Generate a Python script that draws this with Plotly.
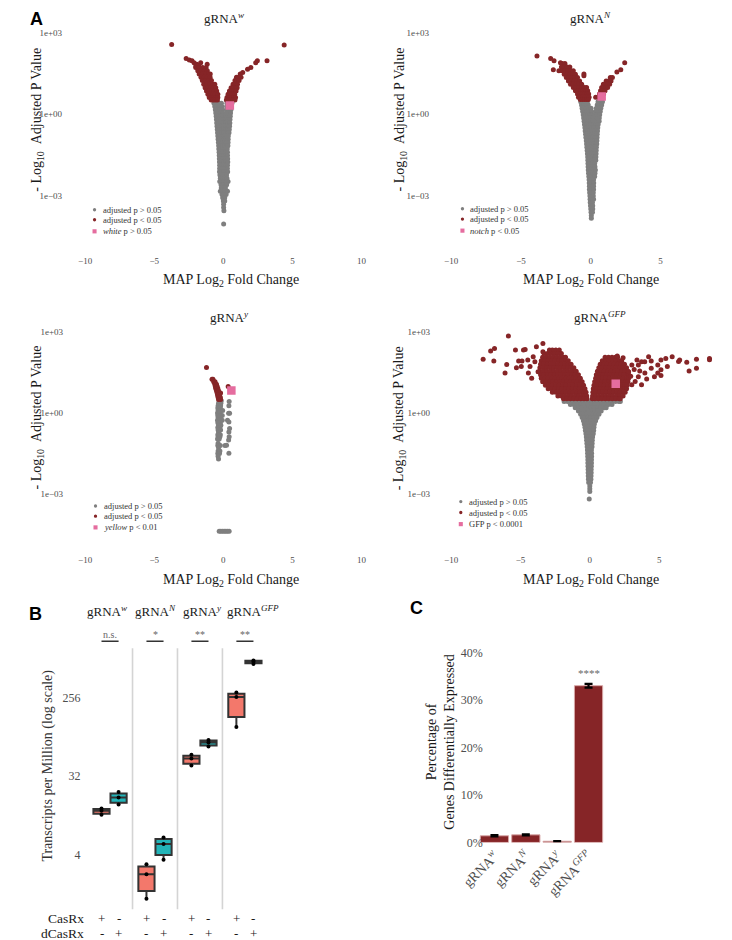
import plotly.graph_objects as go

W, H = 732, 940
SERIF = "Liberation Serif"
SANS = "Liberation Sans"
GREY = "#7f7f7f"
RED = "#862527"
PINK = "#e56d9f"
SALMON = "#F3786B"
TEAL = "#22B4B8"
TICK = "#4d4d4d"


def fx(px):
    return px / W


def fy(py):
    return 1 - py / H


# ---------------- Panel A data ----------------
# rows: (log10 of the -log10 adjusted p value, [MAP log2 fold changes])
fc_ticks = [-10, -5, 0, 5, 10]
p_ticks = [1e-3, 1, 1e3]
p_tick_text = ["1e\u221203", "1e+00", "1e+03"]

w_ns_rows = [
    (0.40, [-0.68, -0.50, -0.32, -0.14, 0.26, 0.44, 0.62]),
    (0.28, [-0.62, -0.45, -0.28, -0.11, 0.24, 0.41, 0.58]),
    (0.16, [-0.58, -0.42, -0.26, -0.10, 0.22, 0.39, 0.55]),
    (0.04, [-0.55, -0.39, -0.23, -0.07, 0.20, 0.36, 0.52]),
    (-0.08, [-0.52, -0.36, -0.20, -0.04, 0.19, 0.34, 0.50]),
    (-0.20, [-0.50, -0.34, -0.18, -0.02, 0.18, 0.33, 0.48]),
    (-0.32, [-0.48, -0.32, -0.16, 0.00, 0.17, 0.32, 0.47]),
    (-0.44, [-0.46, -0.30, -0.14, 0.02, 0.17, 0.31, 0.45]),
    (-0.56, [-0.44, -0.29, -0.13, 0.03, 0.18, 0.32, 0.43]),
    (-0.68, [-0.42, -0.27, -0.12, 0.04, 0.19, 0.33, 0.41]),
    (-0.80, [-0.40, -0.25, -0.10, 0.05, 0.20, 0.36]),
    (-0.92, [-0.38, -0.23, -0.08, 0.07, 0.21, 0.35]),
    (-1.04, [-0.36, -0.21, -0.06, 0.09, 0.23, 0.34]),
    (-1.16, [-0.34, -0.19, -0.04, 0.11, 0.25, 0.33]),
    (-1.28, [-0.33, -0.18, -0.03, 0.12, 0.28]),
    (-1.40, [-0.31, -0.16, 0.00, 0.15, 0.30]),
    (-1.52, [-0.30, -0.15, 0.00, 0.15, 0.30]),
    (-1.64, [-0.29, -0.14, 0.01, 0.16, 0.31]),
    (-1.76, [-0.28, -0.13, 0.02, 0.17, 0.32]),
    (-1.88, [-0.27, -0.12, 0.03, 0.18, 0.30]),
    (-2.00, [-0.27, -0.11, 0.05, 0.20, 0.29]),
    (-2.12, [-0.28, -0.12, 0.04, 0.19, 0.31]),
    (-2.24, [-0.25, -0.09, 0.07, 0.23]),
    (-2.36, [-0.22, -0.06, 0.10, 0.26]),
    (-2.48, [-0.26, -0.10, 0.06, 0.22, 0.34]),
    (-2.60, [-0.17, -0.01, 0.15, 0.24]),
    (-2.72, [-0.15, 0.00, 0.15]),
    (-2.84, [-0.22, -0.06, 0.10, 0.30]),
    (-2.96, [-0.10, 0.06, 0.20]),
    (-3.08, [-0.05, 0.10]),
    (-3.20, [0.00, 0.10]),
    (-3.32, [0.02]),
    (-3.44, [0.02]),
    (-3.56, [0.04]),
    (-4.05, [0.02]),
]
w_sig_rows = [
    (2.57, [-3.74]), (2.55, [4.40]), (2.06, [-2.69]), (2.00, [-2.46]),
    (1.97, [-2.27, 2.46, 3.16]), (1.90, [-2.12, -1.64, 2.34]),
    (1.84, [-1.93, -1.17]), (1.78, [-1.99, -1.78]), (1.72, [1.99]),
    (1.66, [1.75]), (1.54, [1.40]),
    (1.72, [-2.00, -1.75, -1.50, -1.25]),
    (1.60, [-1.85, -1.62, -1.39, -1.16]),
    (1.48, [-1.75, -1.52, -1.29, -1.06, -0.95, 1.22]),
    (1.36, [-1.62, -1.40, -1.18, -0.96, 0.95, 1.12, 1.28]),
    (1.24, [-1.52, -1.30, -1.08, -0.86, 0.84, 1.00, 1.14]),
    (1.11, [-1.42, -1.20, -0.98, -0.76, -0.62, 0.70, 0.86, 1.02]),
    (0.98, [-1.32, -1.12, -0.92, -0.72, -0.55, 0.56, 0.72, 0.88, 1.00]),
    (0.86, [-1.22, -1.03, -0.84, -0.65, -0.48, 0.44, 0.60, 0.76, 0.92]),
    (0.74, [-1.12, -0.94, -0.76, -0.58, -0.40, 0.34, 0.50, 0.66, 0.82]),
    (0.62, [-1.02, -0.86, -0.70, -0.54, -0.40, 0.26, 0.42, 0.58, 0.74, 0.88]),
    (0.52, [-0.88, -0.73, -0.58, -0.43, 0.22, 0.38, 0.54, 0.70, 0.84]),
]
w_target = [(0.32, [0.47])]

n_ns_rows = [
    (0.46, [-0.72, -0.56, -0.40, -0.24, 0.52, 0.68, 0.84]),
    (0.34, [-0.66, -0.50, -0.34, -0.18, 0.46, 0.62, 0.78]),
    (0.22, [-0.62, -0.46, -0.30, -0.14, 0.02, 0.40, 0.56, 0.72]),
    (0.10, [-0.58, -0.42, -0.26, -0.10, 0.06, 0.36, 0.52, 0.68]),
    (-0.02, [-0.54, -0.38, -0.22, -0.06, 0.10, 0.32, 0.48, 0.64]),
    (-0.14, [-0.51, -0.35, -0.19, -0.03, 0.13, 0.30, 0.46, 0.61]),
    (-0.26, [-0.48, -0.32, -0.16, 0.00, 0.16, 0.32, 0.48, 0.60]),
    (-0.38, [-0.45, -0.29, -0.13, 0.03, 0.19, 0.35, 0.53]),
    (-0.50, [-0.42, -0.26, -0.10, 0.06, 0.22, 0.38, 0.50]),
    (-0.62, [-0.40, -0.24, -0.08, 0.08, 0.24, 0.40, 0.48]),
    (-0.74, [-0.37, -0.21, -0.05, 0.11, 0.27, 0.46]),
    (-0.86, [-0.35, -0.19, -0.03, 0.13, 0.29, 0.45]),
    (-0.98, [-0.32, -0.16, 0.00, 0.16, 0.32, 0.44]),
    (-1.10, [-0.30, -0.14, 0.02, 0.18, 0.34, 0.43]),
    (-1.22, [-0.28, -0.12, 0.04, 0.20, 0.40]),
    (-1.34, [-0.26, -0.10, 0.06, 0.22, 0.39]),
    (-1.46, [-0.24, -0.08, 0.08, 0.24, 0.38]),
    (-1.58, [-0.22, -0.06, 0.10, 0.26, 0.37]),
    (-1.70, [-0.21, -0.05, 0.11, 0.27, 0.36]),
    (-1.82, [-0.20, -0.04, 0.12, 0.28]),
    (-1.94, [-0.19, -0.03, 0.13, 0.30]),
    (-2.06, [-0.18, -0.02, 0.14, 0.33]),
    (-2.18, [-0.16, 0.00, 0.16, 0.30]),
    (-2.30, [-0.14, 0.02, 0.18, 0.28]),
    (-2.42, [-0.12, 0.04, 0.20]),
    (-2.54, [-0.11, 0.05, 0.21]),
    (-2.66, [-0.10, 0.06, 0.20]),
    (-2.78, [-0.10, 0.05, 0.20]),
    (-2.90, [-0.08, 0.08, 0.18]),
    (-3.02, [-0.06, 0.10, 0.18]),
    (-3.14, [-0.05, 0.10, 0.20]),
    (-3.26, [-0.04, 0.12]),
    (-3.38, [-0.02, 0.14]),
    (-3.50, [0.00, 0.14]),
    (-3.62, [0.02, 0.12]),
    (-3.74, [0.04]),
    (-3.84, [0.04]),
]
n_sig_rows = [
    (2.15, [-3.85]), (2.06, [-2.87]), (1.97, [-2.63]), (1.90, [-2.17, 2.43]),
    (1.64, [-2.68, 2.15]), (1.60, [-2.28]), (1.56, [1.87]),
    (1.48, [-0.49]), (1.42, [-0.49]),
    (1.87, [-2.05, -1.85]),
    (1.74, [-2.10, -1.90, -1.70, -1.50]),
    (1.60, [-2.05, -1.85, -1.65, -1.45, -1.25]),
    (1.47, [-1.90, -1.70, -1.50, -1.30, -1.10]),
    (1.35, [-1.75, -1.55, -1.35, -1.15, -0.95, 1.40, 1.55]),
    (1.23, [-1.60, -1.40, -1.20, -1.00, -0.80, 1.10, 1.28, 1.45]),
    (1.11, [-1.45, -1.25, -1.05, -0.85, -0.65, 0.90, 1.05, 1.20, 1.35]),
    (0.99, [-1.25, -1.05, -0.85, -0.65, -0.45, -0.30, 0.78, 0.94, 1.10, 1.21]),
    (0.87, [-1.10, -0.92, -0.74, -0.56, -0.38, -0.22, 0.70, 0.86, 1.02]),
    (0.75, [-0.95, -0.78, -0.61, -0.44, -0.27, -0.15, 0.62, 0.78, 0.92]),
    (0.63, [-0.88, -0.72, -0.56, -0.40, -0.24, -0.12, 0.35, 0.55, 0.70]),
    (0.54, [-0.75, -0.60, -0.45, -0.30, -0.17]),
]
n_target = [(0.65, [0.78])]

y_ns_rows = [
    (0.45, [-0.30, -0.15]), (0.36, [-0.35, -0.18]), (0.27, [-0.38, -0.20]),
    (0.18, [-0.40, -0.22]), (0.09, [-0.38, -0.20, -0.05]), (0.00, [-0.42, -0.25]),
    (-0.09, [-0.40, -0.22, -0.08]), (-0.18, [-0.38, -0.20]),
    (-0.27, [-0.42, -0.25, -0.08]), (-0.36, [-0.40, -0.22]),
    (-0.45, [-0.35, -0.18]), (-0.54, [-0.40, -0.25]), (-0.63, [-0.38, -0.20]),
    (-0.72, [-0.35]), (-0.80, [-0.40, -0.22]), (-0.88, [-0.38, -0.25]),
    (-0.96, [-0.42, -0.30]), (-1.12, [-0.38]), (-1.20, [-0.40, -0.22, 0.12]),
    (-1.28, [-0.35]), (-1.40, [-0.38, -0.25]), (-1.50, [-0.40, -0.28]),
    (-1.60, [-0.38]), (-1.70, [-0.35]),
    (0.42, [0.42]), (0.27, [0.40]), (-0.01, [0.38, 0.45]), (-0.27, [0.30]),
    (-0.33, [0.40]), (-0.57, [0.45]), (-0.70, [0.40]), (-0.88, [0.42]),
    (-1.00, [0.38]), (-1.19, [0.23]), (-1.49, [0.40]),
    (-4.37, [-0.30, -0.18, -0.06, 0.06, 0.18, 0.30, 0.42]),
]
y_sig_rows = [
    (1.68, [-1.22]), (1.24, [-0.75, -0.82]), (1.15, [-0.70, -0.60]),
    (1.06, [-0.62, -0.50]), (0.98, [-0.58, -0.45, 0.35]), (0.90, [-0.55, -0.40]),
    (0.82, [-0.50, -0.35]), (0.74, [-0.45, -0.30, -0.20]), (0.66, [-0.42, -0.28]),
    (0.58, [-0.38, -0.22]), (0.50, [-0.35, -0.20]),
]
y_target = [(0.83, [0.58])]

gfp_ns_rows = [
    (0.42, [-1.85, -1.60, -1.35, -1.10, -0.85, -0.60, -0.35, -0.12, 0.12, 0.35,
            0.60, 0.85, 1.10, 1.35, 1.60, 1.85, 2.10, 2.20]),
    (0.31, [-1.40, -1.15, -0.90, -0.65, -0.40, -0.15, 0.12, 0.35, 0.60, 0.85,
            1.10, 1.35, 1.60]),
    (0.19, [-1.05, -0.80, -0.55, -0.30, -0.08, 0.08, 0.30, 0.55, 0.80, 1.05, 1.18]),
    (0.07, [-0.82, -0.58, -0.34, -0.10, 0.10, 0.34, 0.58, 0.82]),
    (-0.05, [-0.66, -0.44, -0.22, 0.00, 0.22, 0.44, 0.66]),
    (-0.17, [-0.55, -0.35, -0.15, 0.05, 0.25, 0.45, 0.52]),
    (-0.29, [-0.46, -0.28, -0.10, 0.08, 0.26, 0.42]),
    (-0.41, [-0.40, -0.22, -0.04, 0.14, 0.33]),
    (-0.53, [-0.35, -0.18, 0.00, 0.17, 0.30]),
    (-0.65, [-0.32, -0.15, 0.02, 0.18, 0.28]),
    (-0.77, [-0.28, -0.12, 0.04, 0.20, 0.25]),
    (-0.89, [-0.25, -0.10, 0.05, 0.20]),
    (-1.01, [-0.23, -0.08, 0.07, 0.18]),
    (-1.13, [-0.21, -0.06, 0.08, 0.17]),
    (-1.25, [-0.19, -0.04, 0.10, 0.16]),
    (-1.37, [-0.17, -0.02, 0.12]),
    (-1.49, [-0.16, -0.01, 0.13]),
    (-1.61, [-0.15, 0.00, 0.13]),
    (-1.73, [-0.14, 0.00, 0.12]),
    (-1.85, [-0.14, 0.00, 0.12]),
    (-1.97, [-0.13, 0.00, 0.11]),
    (-2.09, [-0.12, 0.00, 0.10]),
    (-2.21, [-0.12, 0.00, 0.10]),
    (-2.33, [-0.11, 0.00, 0.09]),
    (-2.45, [-0.10, 0.00, 0.08]),
    (-2.57, [-0.08, 0.05]),
    (-2.70, [0.00]), (-2.80, [0.00]), (-2.90, [0.00]), (-3.18, [-0.04]),
]
gfp_sig_rows = [
    # left wing (dense)
    (2.32, [-2.70, -2.45, -2.20]),
    (2.19, [-3.30, -3.05, -2.80, -2.55, -2.30, -2.05]),
    (2.06, [-3.40, -3.15, -2.90, -2.65, -2.40, -2.15, -1.90, -1.75]),
    (1.93, [-3.50, -3.25, -3.00, -2.75, -2.50, -2.25, -2.00, -1.75, -1.55]),
    (1.80, [-3.55, -3.30, -3.05, -2.80, -2.55, -2.30, -2.05, -1.80, -1.55, -1.35]),
    (1.67, [-3.60, -3.35, -3.10, -2.85, -2.60, -2.35, -2.10, -1.85, -1.60, -1.35, -1.15]),
    (1.54, [-3.60, -3.35, -3.10, -2.85, -2.60, -2.35, -2.10, -1.85, -1.60, -1.35, -1.10, -0.98]),
    (1.41, [-3.55, -3.30, -3.05, -2.80, -2.55, -2.30, -2.05, -1.80, -1.55, -1.30, -1.05, -0.82]),
    (1.28, [-3.50, -3.25, -3.00, -2.75, -2.50, -2.25, -2.00, -1.75, -1.50, -1.25, -1.00, -0.75, -0.68]),
    (1.15, [-3.40, -3.15, -2.90, -2.65, -2.40, -2.15, -1.90, -1.65, -1.40, -1.15, -0.90, -0.65, -0.55]),
    (1.02, [-3.20, -2.95, -2.70, -2.45, -2.20, -1.95, -1.70, -1.45, -1.20, -0.95, -0.70, -0.45]),
    (0.89, [-3.00, -2.75, -2.50, -2.25, -2.00, -1.75, -1.50, -1.25, -1.00, -0.75, -0.50, -0.35]),
    (0.76, [-2.70, -2.45, -2.20, -1.95, -1.70, -1.45, -1.20, -0.95, -0.70, -0.45, -0.27]),
    (0.63, [-2.30, -2.05, -1.80, -1.55, -1.30, -1.05, -0.80, -0.55, -0.32, -0.22]),
    (0.52, [-1.90, -1.65, -1.40, -1.15, -0.90, -0.65, -0.42, -0.20]),
    # right wing (dense)
    (2.06, [1.10, 1.35, 1.60, 1.85, 2.00]),
    (1.93, [0.90, 1.15, 1.40, 1.65, 1.90, 2.15, 2.30]),
    (1.80, [0.75, 1.00, 1.25, 1.50, 1.75, 2.00, 2.25, 2.50]),
    (1.67, [0.65, 0.90, 1.15, 1.40, 1.65, 1.90, 2.15, 2.40, 2.65]),
    (1.54, [0.55, 0.80, 1.05, 1.30, 1.55, 1.80, 2.05, 2.30, 2.55, 2.75]),
    (1.41, [0.47, 0.72, 0.97, 1.22, 1.47, 1.72, 1.97, 2.22, 2.47, 2.72, 2.80]),
    (1.28, [0.42, 0.67, 0.92, 1.17, 1.42, 1.67, 1.92, 2.17, 2.42, 2.67, 2.80]),
    (1.15, [0.35, 0.60, 0.85, 1.10, 1.35, 1.60, 1.85, 2.10, 2.35, 2.60, 2.75]),
    (1.02, [0.30, 0.55, 0.80, 1.05, 1.30, 1.55, 1.80, 2.05, 2.30, 2.55, 2.70]),
    (0.89, [0.25, 0.50, 0.75, 1.00, 1.25, 1.50, 1.75, 2.00, 2.25, 2.50, 2.65]),
    (0.76, [0.22, 0.45, 0.70, 0.95, 1.20, 1.45, 1.70, 1.95, 2.20, 2.45, 2.55]),
    (0.63, [0.20, 0.41, 0.66, 0.91, 1.16, 1.41, 1.66, 1.91, 2.16, 2.40]),
    (0.52, [0.18, 0.37, 0.62, 0.87, 1.12, 1.37, 1.62, 1.87, 2.12, 2.20]),
    # sparse, left
    (1.98, [-7.69]), (2.29, [-7.15]), (2.38, [-6.87]), (1.92, [-6.92, -5.13, -4.89]),
    (1.47, [-6.11, -4.43]), (1.79, [-5.99]), (2.84, [-5.87]), (2.32, [-5.36, -4.78, -2.91]),
    (1.67, [-5.29]), (2.34, [-4.66]), (1.71, [-4.94, -4.31]), (1.95, [-4.47]),
    (1.28, [-4.19]), (2.44, [-3.85]), (2.56, [-3.38]), (2.26, [-3.38]),
    (2.07, [-4.08]), (1.89, [-3.96]), (1.52, [-3.73]),
    # sparse, right
    (2.04, [2.40]), (2.10, [1.98]), (1.89, [3.73, 3.96]), (2.07, [4.24, 5.94]),
    (1.77, [4.90, 3.03, 3.50]), (1.59, [5.13]), (1.38, [5.13]), (2.01, [5.48, 8.63]),
    (1.95, [6.48, 5.13]), (1.90, [6.40]), (1.87, [6.99]), (1.55, [7.16, 3.60]),
    (1.98, [7.69]), (1.65, [7.69, 4.43]), (1.96, [8.63]), (1.71, [5.59]),
    (1.47, [3.97, 4.90]), (1.34, [4.66, 3.50]), (1.16, [3.27]), (1.04, [3.03, 3.73]),
    (1.52, [2.80]), (1.92, [4.43]), (1.60, [3.20]), (1.25, [4.10]), (1.35, [2.95]),
    (1.95, [3.40]),
]
gfp_target = [(1.08, [1.87])]

volcano_titles = ["gRNA<sup><i>w</i></sup>", "gRNA<sup><i>N</i></sup>",
                  "gRNA<sup><i>y</i></sup>", "gRNA<sup><i>GFP</i></sup>"]
volcano_target_labels = ["<i>white</i> p &gt; 0.05", "<i>notch</i> p &lt; 0.05",
                         "<i>yellow</i> p &lt; 0.01", "GFP p &lt; 0.0001"]
legend_ns = "adjusted p &gt; 0.05"
legend_sig = "adjusted p &lt; 0.05"

# ---------------- Panel B data ----------------
guide_names = ["gRNA<sup><i>w</i></sup>", "gRNA<sup><i>N</i></sup>",
               "gRNA<sup><i>y</i></sup>", "gRNA<sup><i>GFP</i></sup>"]
tpm_casrx = [[11.5, 12.8, 13.6], [1.24, 2.38, 3.1], [42.4, 51.3, 56.4], [118, 262, 294]]
tpm_dcasrx = [[15.1, 18.2, 21.0], [3.5, 5.3, 6.3], [70.5, 78.3, 83.7], [630, 665, 690]]
sig_labels = ["n.s.", "*", "**", "**"]
tpm_ticks = [4, 32, 256]
casrx_signs = ["+", "-"]
dcasrx_signs = ["-", "+"]

# ---------------- Panel C data ----------------
de_labels = ["gRNA<sup><i>w</i></sup>", "gRNA<sup><i>N</i></sup>",
             "gRNA<sup><i>y</i></sup>", "gRNA<sup><i>GFP</i></sup>"]
de_pct = [1.4, 1.6, 0.25, 33.0]
de_err = [0.12, 0.12, 0.05, 0.4]
de_star = "****"
pct_ticks = [0, 10, 20, 30, 40]
pct_tick_text = ["0%", "10%", "20%", "30%", "40%"]


def expand(rows):
    xs, ys = [], []
    for lg, row in rows:
        for x in row:
            xs.append(x)
            ys.append(10 ** lg)
    return xs, ys


fig = go.Figure()
layout = {}
annotations = []
shapes = []

# geometry of the four volcano panels (pixel boxes)
vpanels = [
    # suffix, x0, x1, ytop, ybot, y-standoff, title(x,y), xtitle(x,y), ytitle(x,y), legend(mx, tx, rows)
    ("", 62, 347, 18, 248, 22, (205, 10), (212, 275), (13, 113), (71.7, 78, [203.3, 213.3, 225])),
    ("2", 439.3, 727.3, 18, 248, 21, (583, 10), (584, 275), (387, 112), (451, 457, [202.3, 212.7, 224.3])),
    ("3", 62, 347, 319, 549, 21, (211, 311), (212, 577), (13, 413), (72.7, 79, [501.7, 512, 523.3])),
    ("4", 439.3, 725.3, 319, 549, 20, (593, 311), (584, 577), (387, 413), (449.3, 456, [497.3, 508.3, 520])),
]
vdata = [(w_ns_rows, w_sig_rows, w_target), (n_ns_rows, n_sig_rows, n_target),
         (y_ns_rows, y_sig_rows, y_target), (gfp_ns_rows, gfp_sig_rows, gfp_target)]

for i, (suf, x0, x1, yt, yb, sto, tpos, xtpos, ytpos, leg) in enumerate(vpanels):
    ns, sig, tgt = vdata[i]
    xa, ya = "x" + suf, "y" + suf
    for rows, col, sym, size in [(ns, GREY, "circle", 5), (sig, RED, "circle", 5), (tgt, PINK, "square", 8.5)]:
        xs, ys = expand(rows)
        fig.add_trace(go.Scatter(x=xs, y=ys, mode="markers", xaxis=xa, yaxis=ya,
                                 marker=dict(color=col, size=size, symbol=sym, line=dict(width=0)),
                                 hoverinfo="skip", showlegend=False))
    layout["xaxis" + suf] = dict(domain=[fx(x0), fx(x1)], range=[-10, 10], anchor=ya,
                                 tickvals=fc_ticks, showgrid=False, zeroline=False, showline=False,
                                 ticks="", tickfont=dict(family=SERIF, size=9, color=TICK),
                                 ticklabelstandoff=0, fixedrange=True)
    layout["yaxis" + suf] = dict(domain=[fy(yb), fy(yt)], type="log", range=[-5.165, 3.26], anchor=xa,
                                 tickvals=p_ticks, ticktext=p_tick_text, showgrid=False,
                                 zeroline=False, showline=False, ticks="",
                                 tickfont=dict(family=SERIF, size=9, color=TICK),
                                 ticklabelstandoff=sto, fixedrange=True)
    annotations.append(dict(text=volcano_titles[i], x=fx(tpos[0]), y=fy(tpos[1]), xref="paper", yref="paper",
                            showarrow=False, xanchor="center", yanchor="middle",
                            font=dict(family=SERIF, size=13, color="#1a1a1a")))
    annotations.append(dict(text="MAP Log<sub>2</sub> Fold Change", x=fx(xtpos[0]), y=fy(xtpos[1]),
                            xref="paper", yref="paper", showarrow=False, xanchor="center", yanchor="middle",
                            font=dict(family=SERIF, size=14, color="#1a1a1a")))
    annotations.append(dict(text="- Log<sub>10</sub> &nbsp;Adjusted P Value", x=fx(ytpos[0]), y=fy(ytpos[1]),
                            xref="paper", yref="paper", showarrow=False, textangle=-90,
                            xanchor="center", yanchor="middle",
                            font=dict(family=SERIF, size=14, color="#1a1a1a")))
    mx, tx, rws = leg
    for k, (col, txt) in enumerate([(GREY, legend_ns), (RED, legend_sig), (PINK, volcano_target_labels[i])]):
        r = 1.7 if k < 2 else 2.1
        shapes.append(dict(type="circle" if k < 2 else "rect", xref="paper", yref="paper",
                           x0=fx(mx - r), x1=fx(mx + r), y0=fy(rws[k] + r), y1=fy(rws[k] - r),
                           fillcolor=col, line=dict(width=0)))
        annotations.append(dict(text=txt, x=fx(tx), y=fy(rws[k]), xref="paper", yref="paper",
                                showarrow=False, xanchor="left", yanchor="middle",
                                font=dict(family=SERIF, size=8.5, color="#333333")))

# ---------------- Panel B ----------------
off = 0.19
for g in range(4):
    for vals, col, dx in [(tpm_casrx[g], SALMON, -off), (tpm_dcasrx[g], TEAL, off)]:
        fig.add_trace(go.Box(x=[g + 1 + dx] * len(vals), y=vals, xaxis="x5", yaxis="y5",
                             width=0.36, fillcolor=col, line=dict(color="#333333", width=2),
                             whiskerwidth=0, boxpoints="all", jitter=0, pointpos=0,
                             marker=dict(color="black", size=4), quartilemethod="linear",
                             hoverinfo="skip", showlegend=False))
layout["xaxis5"] = dict(domain=[fx(64.5), fx(249.9)], range=[0.5, 4.5], anchor="y5",
                        showticklabels=False, showgrid=False, zeroline=False, showline=False,
                        ticks="", fixedrange=True)
layout["yaxis5"] = dict(domain=[fy(908), fy(645)], type="log", range=[-0.027, 2.980], anchor="x5",
                        tickvals=tpm_ticks, ticktext=[str(t) for t in tpm_ticks], showgrid=False,
                        zeroline=False, showline=False, ticks="",
                        tickfont=dict(family=SERIF, size=12, color=TICK), ticklabelstandoff=6,
                        fixedrange=True)
for sep in [1.5, 2.5, 3.5]:
    shapes.append(dict(type="line", xref="x5", yref="paper", x0=sep, x1=sep, y0=fy(908), y1=fy(645),
                       line=dict(color="#d4d4d4", width=1.6)))
title_px = [85, 134.7, 183.5, 234.7]
for g in range(4):
    annotations.append(dict(text=guide_names[g], x=fx(title_px[g]), y=fy(608), xref="paper", yref="paper",
                            showarrow=False, xanchor="center", yanchor="middle",
                            font=dict(family=SERIF, size=13, color="#1a1a1a")))
    shapes.append(dict(type="line", xref="x5", yref="paper", x0=g + 1 - off, x1=g + 1 + off,
                       y0=fy(638), y1=fy(638), line=dict(color="#333333", width=1.5)))
    annotations.append(dict(text=sig_labels[g], x=g + 1, y=fy(631), xref="x5", yref="paper",
                            showarrow=False, xanchor="center", yanchor="middle",
                            font=dict(family=SERIF, size=10, color="#666666")))
    for k, dx in enumerate([-off, off]):
        annotations.append(dict(text=casrx_signs[k], x=g + 1 + dx, y=fy(917.5), xref="x5", yref="paper",
                                showarrow=False, xanchor="center", yanchor="middle",
                                font=dict(family=SERIF, size=13, color="#1a1a1a")))
        annotations.append(dict(text=dcasrx_signs[k], x=g + 1 + dx, y=fy(932), xref="x5", yref="paper",
                                showarrow=False, xanchor="center", yanchor="middle",
                                font=dict(family=SERIF, size=13, color="#1a1a1a")))
annotations.append(dict(text="CasRx", x=fx(63), y=fy(917.5), xref="paper", yref="paper", showarrow=False,
                        xanchor="right", yanchor="middle", font=dict(family=SERIF, size=13.5, color="#1a1a1a")))
annotations.append(dict(text="dCasRx", x=fx(63), y=fy(932), xref="paper", yref="paper", showarrow=False,
                        xanchor="right", yanchor="middle", font=dict(family=SERIF, size=13.5, color="#1a1a1a")))
annotations.append(dict(text="Transcripts per Million (log scale)", x=fx(24), y=fy(763), xref="paper",
                        yref="paper", showarrow=False, textangle=-90, xanchor="center", yanchor="middle",
                        font=dict(family=SERIF, size=14, color="#333333")))

# ---------------- Panel C ----------------
fig.add_trace(go.Bar(x=[1, 2, 3, 4], y=de_pct, width=0.9, xaxis="x6", yaxis="y6",
                     marker=dict(color=RED, line=dict(color="#d8a7a7", width=1)),
                     error_y=dict(type="data", array=de_err, color="black", thickness=2.2, width=4),
                     hoverinfo="skip", showlegend=False))
layout["xaxis6"] = dict(domain=[fx(464.6), fx(600.4)], range=[0.4, 4.6], anchor="y6",
                        tickvals=[1, 2, 3, 4], ticktext=de_labels, tickangle=-45,
                        showgrid=False, zeroline=False, showline=False, ticks="",
                        tickfont=dict(family=SERIF, size=14, color=TICK), ticklabelstandoff=2,
                        fixedrange=True)
layout["yaxis6"] = dict(domain=[fy(840.7), fy(630)], range=[0, 44.03], anchor="free", position=fx(474),
                        tickvals=pct_ticks, ticktext=pct_tick_text, showgrid=False, zeroline=False,
                        showline=False, ticks="", tickfont=dict(family=SERIF, size=12, color=TICK),
                        ticklabelstandoff=2, fixedrange=True)
annotations.append(dict(text=de_star, x=4, y=35.6, xref="x6", yref="y6", showarrow=False,
                        xanchor="center", yanchor="middle", font=dict(family=SERIF, size=11, color="#666666")))
annotations.append(dict(text="Percentage of<br>Genes Differentially Expressed", x=fx(428), y=fy(740),
                        xref="paper", yref="paper", showarrow=False, textangle=-90,
                        xanchor="center", yanchor="middle",
                        font=dict(family=SERIF, size=14, color="#1a1a1a")))

# panel letters
for letter, px, py in [("A", 11.5, 11), ("B", 10.5, 611), ("C", 404, 604)]:
    annotations.append(dict(text="<b>%s</b>" % letter, x=fx(px), y=fy(py), xref="paper", yref="paper",
                            showarrow=False, xanchor="center", yanchor="middle",
                            font=dict(family=SANS, size=18, color="black")))

fig.update_layout(width=W, height=H, margin=dict(l=0, r=0, t=0, b=0), paper_bgcolor="white",
                  plot_bgcolor="white", showlegend=False, boxmode="overlay",
                  font=dict(family=SERIF), annotations=annotations, shapes=shapes, **layout)
fig.write_html("out.html")
